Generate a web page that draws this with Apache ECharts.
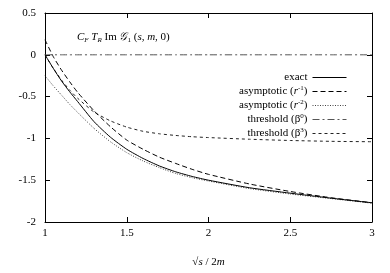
<!DOCTYPE html>
<html><head><meta charset="utf-8">
<script src="https://cdn.jsdelivr.net/npm/echarts@6/dist/echarts.min.js"></script>
<style>html,body{margin:0;padding:0;background:#fff}#c{width:390px;height:273px}</style>
</head><body><div id="c"></div>
<script>
var xs = [1, 1.05, 1.1, 1.15, 1.2, 1.3, 1.4, 1.5, 1.6, 1.7, 1.8, 1.9, 2.0, 2.25, 2.5, 2.75, 3];
var exact = [0, -0.16, -0.31, -0.44, -0.56, -0.80, -0.985, -1.13, -1.24, -1.33, -1.40, -1.455, -1.50, -1.59, -1.655, -1.715, -1.77];
var asym1 = [0.18, -0.02, -0.18, -0.32, -0.45, -0.67, -0.86, -1.02, -1.13, -1.225, -1.30, -1.37, -1.43, -1.545, -1.635, -1.71, -1.77];
var asym2 = [-0.25, -0.37, -0.48, -0.59, -0.69, -0.88, -1.04, -1.17, -1.27, -1.35, -1.42, -1.47, -1.51, -1.60, -1.665, -1.72, -1.775];
var thr0 = [0, 0, 0, 0, 0, 0, 0, 0, 0, 0, 0, 0, 0, 0, 0, 0, 0];
var thr3 = [0, -0.16, -0.30, -0.42, -0.52, -0.685, -0.79, -0.865, -0.915, -0.945, -0.965, -0.98, -0.99, -1.01, -1.025, -1.035, -1.04];
var xTicks = ['1', '1.5', '2', '2.5', '3'];
var yTicks = ['-2', '-1.5', '-1', '-0.5', '0', '0.5'];
var names = ['exact', 'asymptotic (r^-1)', 'asymptotic (r^-2)', 'threshold (β^0)', 'threshold (β^3)'];

function pairs(v){ return xs.map(function(x,i){ return [x, v[i]]; }); }
var F = 'Liberation Serif';
var rich = {
  n: {fontFamily: F, fontSize: 11, color: '#000', lineHeight: 13},
  i: {fontFamily: F, fontSize: 11, fontStyle: 'italic', color: '#000', lineHeight: 13},
  sup: {fontFamily: F, fontSize: 7, color: '#000', lineHeight: 8, verticalAlign: 'top'},
  sub: {fontFamily: F, fontSize: 7, color: '#000', lineHeight: 8, verticalAlign: 'bottom'},
  isub: {fontFamily: F, fontSize: 7, fontStyle: 'italic', color: '#000', lineHeight: 8, verticalAlign: 'bottom'}
};
function legendFmt(name){
  if (name === names[0]) return '{n|exact}';
  if (name === names[1]) return '{n|asymptotic (}{i|r}{sup|-1}{n|)}';
  if (name === names[2]) return '{n|asymptotic (}{i|r}{sup|-2}{n|)}';
  if (name === names[3]) return '{n|threshold (β}{sup|0}{n|)}';
  return '{n|threshold (β}{sup|3}{n|)}';
}
var styles = [
  {type: 'solid', width: 1, color: '#000'},
  {type: [5, 3], width: 1, color: '#000'},
  {type: [1, 1.5], width: 1, color: '#444'},
  {type: [7, 3, 2, 3], width: 1, color: '#555'},
  {type: [3, 3], width: 1, color: '#222'}
];
var data = [exact, asym1, asym2, thr0, thr3];
var series = data.map(function(v, k){
  return {name: names[k], type: 'line', data: pairs(v), smooth: 0.2, symbol: 'none',
    lineStyle: styles[k], itemStyle: {color: styles[k].color}, z: 5 - k, animation: false};
});
var axisLine = {show: true, onZero: false, lineStyle: {color: '#000', width: 1}};
var tick = {show: true, inside: true, length: 5, lineStyle: {color: '#000'}};
var lab = {fontFamily: F, fontSize: 11, color: '#000'};
var chart = echarts.init(document.getElementById('c'));
chart.setOption({
  animation: false,
  grid: {left: 45, top: 13, right: 18, bottom: 44, containLabel: false},
  legend: {
    orient: 'vertical', right: 38, top: 67, align: 'right', itemWidth: 34, itemHeight: 10, itemGap: 2,
    data: names, formatter: legendFmt, textStyle: {rich: rich, fontFamily: F, fontSize: 11},
    itemStyle: {opacity: 0}, lineStyle: {width: 1},
    selectedMode: false
  },
  graphic: [{
    type: 'text', left: 77, top: 32,
    style: {
      text: '{i|C}{isub|F}{n| }{i|T}{isub|R}{n| Im }{i|𝒢}{sub|1}{n| (}{i|s}{n|, }{i|m}{n|, 0)}',
      rich: rich
    }
  }],
  xAxis: [{
    type: 'value', min: 1, max: 3, interval: 0.5, position: 'bottom',
    axisLine: axisLine, axisTick: tick, splitLine: {show: false},
    axisLabel: Object.assign({margin: 6, formatter: function(v){ return xTicks[Math.round((v - 1) / 0.5)]; }}, lab),
    name: '{n|√}{i|s}{n| / 2}{i|m}', nameLocation: 'middle', nameGap: 34,
    nameTextStyle: {rich: rich}
  }, {
    type: 'value', min: 1, max: 3, interval: 0.5, position: 'top',
    axisLine: axisLine, axisTick: tick, axisLabel: {show: false}, splitLine: {show: false}
  }],
  yAxis: [{
    type: 'value', min: -2, max: 0.5, interval: 0.5, position: 'left',
    axisLine: axisLine, axisTick: tick, splitLine: {show: false},
    axisLabel: Object.assign({margin: 9, formatter: function(v){ return yTicks[Math.round((v + 2) / 0.5)]; }}, lab)
  }, {
    type: 'value', min: -2, max: 0.5, interval: 0.5, position: 'right',
    axisLine: axisLine, axisTick: tick, axisLabel: {show: false}, splitLine: {show: false}
  }],
  series: series
});
</script></body></html>
